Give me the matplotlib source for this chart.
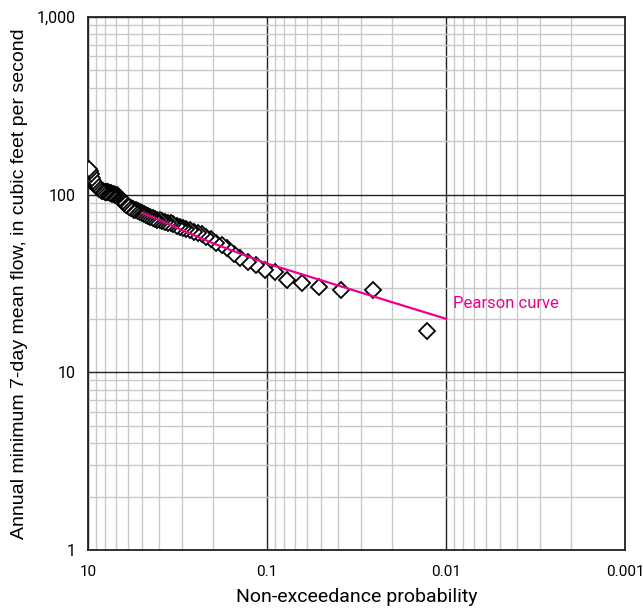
import numpy as np
import matplotlib
matplotlib.use("Agg")
import matplotlib.pyplot as plt
from matplotlib.ticker import LogLocator, NullFormatter

# Annual minimum 7-day mean flows (cfs), 77 years, sorted ascending
flows = [
    17.0, 29.0, 29.2, 30.1, 31.7, 33.0, 36.5, 37.7, 40.0, 42.0,
    44.0, 46.5, 50.0, 52.0, 53.5, 56.0, 58.0, 60.0, 61.0, 62.0,
    63.0, 64.0, 65.0, 66.0, 67.0, 68.0, 69.0, 69.0, 70.0, 71.0,
    72.0, 72.0, 73.0, 74.0, 75.0, 76.0, 77.0, 78.0, 79.0, 80.0,
    81.0, 82.0, 82.0, 83.0, 84.0, 85.0, 87.0, 88.0, 90.0, 92.0,
    94.0, 96.0, 98.0, 99.0, 100.0, 101.0, 101.0, 102.0, 102.0, 103.0,
    103.0, 104.0, 104.0, 105.0, 105.0, 106.0, 107.0, 108.0, 110.0, 112.0,
    114.0, 117.0, 120.0, 124.0, 130.0, 136.0, 140.0,
]

# Fitted Pearson Type III frequency curve
curve_prob = [0.5, 0.4, 0.3, 0.2, 0.1, 0.05, 0.02, 0.01]
curve_flow = [78.9, 72.1, 63.3, 53.2, 40.9, 33.0, 24.8, 20.0]

xtick_vals = [1, 0.1, 0.01, 0.001]
xtick_text = ["10", "0.1", "0.01", "0.001"]
ytick_vals = [1, 10, 100, 1000]
ytick_text = ["1", "10", "100", "1,000"]

MAGENTA = "#EC008C"
NARROW = ["Roboto", "DejaVu Sans"]

# Weibull plotting positions: rank m / (n + 1), smallest flow = rank 1
n = len(flows)
prob = np.arange(1, n + 1) / (n + 1)

fig = plt.figure(figsize=(6.43, 6.13), dpi=100)
ax = fig.add_axes([0.1369, 0.1028, 0.8354, 0.8695])

ax.set_xscale("log")
ax.set_yscale("log")
ax.set_xlim(1, 0.001)
ax.set_ylim(1, 1000)

ax.xaxis.set_minor_locator(LogLocator(base=10, subs=np.arange(2, 10)))
ax.yaxis.set_minor_locator(LogLocator(base=10, subs=np.arange(2, 10)))
ax.xaxis.set_minor_formatter(NullFormatter())
ax.yaxis.set_minor_formatter(NullFormatter())
ax.grid(which="minor", color="#c8c8c8", lw=1.0, zorder=0)
ax.grid(which="major", color="#222222", lw=1.0, zorder=1)
ax.set_axisbelow(True)

ax.set_xticks(xtick_vals)
ax.set_xticklabels(xtick_text, family=NARROW, fontsize=11)
ax.set_yticks(ytick_vals)
ax.set_yticklabels(ytick_text, family=NARROW, fontsize=11.5)
ax.tick_params(which="both", length=0, pad=9)
ax.tick_params(axis="x", pad=11)

for s in ax.spines.values():
    s.set_color("#222222")
    s.set_linewidth(1.3)

ax.plot(prob, flows, ls="none", marker="D", ms=8.5, mfc="white", mec="black",
        mew=1.3, zorder=3)
ax.plot(curve_prob, curve_flow, color=MAGENTA, lw=1.6, zorder=4)
ax.text(0.0092, curve_flow[-1] * 1.1, "Pearson curve", color=MAGENTA,
        family=NARROW, fontsize=12, ha="left", va="bottom")

ax.set_xlabel("Non-exceedance probability", family=NARROW, fontsize=14,
              labelpad=6)
ax.set_ylabel("Annual minimum 7-day mean flow, in cubic feet per second",
              family=["Liberation Sans", "DejaVu Sans"], fontsize=14,
              labelpad=6)

fig.savefig("out.png", dpi=100, facecolor="white")
